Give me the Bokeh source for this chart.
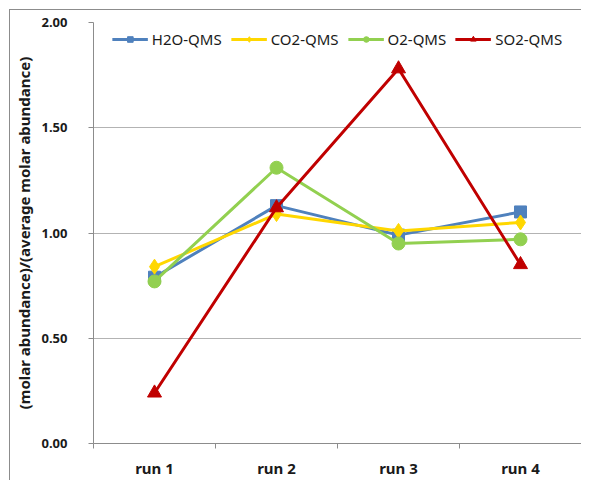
from bokeh.plotting import figure
from bokeh.models import FixedTicker, NumeralTickFormatter, Range1d, Legend, LegendItem
from bokeh.embed import file_html
from bokeh.resources import INLINE

runs = ["run 1", "run 2", "run 3", "run 4"]
h2o = [0.79, 1.13, 0.99, 1.10]
co2 = [0.84, 1.09, 1.01, 1.05]
o2 = [0.77, 1.31, 0.95, 0.97]
so2 = [0.24, 1.12, 1.78, 0.85]
series_names = ["H2O-QMS", "CO2-QMS", "O2-QMS", "SO2-QMS"]
y_ticks = [0.0, 0.5, 1.0, 1.5, 2.0]

xs = list(range(1, len(runs) + 1))
FONT = "Noto Sans"

p = figure(width=581, height=480, output_backend="svg", toolbar_location=None,
           x_range=Range1d(0.5, len(runs) + 0.5), y_range=Range1d(0, 2))
p.min_border_left = 93
p.min_border_right = 0
p.min_border_top = 22
p.min_border_bottom = 33
p.outline_line_color = None
p.background_fill_color = "white"
p.border_fill_color = None
p.styles = {
    "background-color": "white",
    "background-image": "linear-gradient(#8c8c8c,#8c8c8c), linear-gradient(#8c8c8c,#8c8c8c)",
    "background-size": "1px 100%, 100% 1px",
    "background-position": "9px 9px, 9px 9px",
    "background-repeat": "no-repeat",
}

# axes
xa = p.xaxis[0]
xa.ticker = FixedTicker(ticks=xs, minor_ticks=[x + 0.5 for x in [0] + xs])
xa.major_label_overrides = {x: r for x, r in zip(xs, runs)}
xa.major_tick_line_color = None
xa.major_tick_out = 0
xa.major_tick_in = 0
xa.minor_tick_out = 5
xa.minor_tick_in = 0
xa.minor_tick_line_color = "#8c8c8c"
xa.axis_line_color = "#8c8c8c"
xa.major_label_text_font = FONT
xa.major_label_text_font_style = "bold"
xa.major_label_text_font_size = "15px"
xa.major_label_text_color = "#1a1a1a"
xa.major_label_standoff = 9

ya = p.yaxis[0]
ya.ticker = FixedTicker(ticks=y_ticks)
ya.formatter = NumeralTickFormatter(format="0.00")
ya.minor_tick_line_color = None
ya.major_tick_out = 5
ya.major_tick_in = 0
ya.major_tick_line_color = "#8c8c8c"
ya.axis_line_color = "#8c8c8c"
ya.major_label_text_font = FONT
ya.major_label_text_font_style = "bold"
ya.major_label_text_font_size = "13px"
ya.major_label_text_color = "#1a1a1a"
ya.major_label_standoff = 21
ya.axis_label = "(molar abundance)/(average molar abundance)"
ya.axis_label_text_font = FONT
ya.axis_label_text_font_style = "bold"
ya.axis_label_text_font_size = "15px"
ya.axis_label_text_color = "#1a1a1a"
ya.axis_label_standoff = 5

p.xgrid.grid_line_color = None
p.ygrid.grid_line_color = "#b3b3b3"
p.ygrid.grid_line_width = 1

colors = ["#4F81BD", "#FFD700", "#92D050", "#C00000"]
markers = ["square", "diamond", "circle", "triangle"]
sizes = [12, 15, 13, 14]
data = [h2o, co2, o2, so2]

items = []
for name, col, mk, sz, ys in zip(series_names, colors, markers, sizes, data):
    r1 = p.line(xs, ys, line_color=col, line_width=3)
    r2 = p.scatter(xs, ys, marker=mk, size=sz, fill_color=col, line_color=col)
    items.append(LegendItem(label=name, renderers=[r1, r2]))

legend = Legend(items=items, orientation="horizontal", location="top_center")
legend.border_line_color = None
legend.background_fill_alpha = 0
legend.label_text_font = FONT
legend.label_text_font_size = "15px"
legend.label_text_color = "#1a1a1a"
legend.glyph_width = 36
legend.glyph_height = 14
legend.label_standoff = 4
legend.spacing = 9
legend.padding = 2
legend.margin = 7
p.add_layout(legend)

open("out.html", "w").write(file_html(p, INLINE))
